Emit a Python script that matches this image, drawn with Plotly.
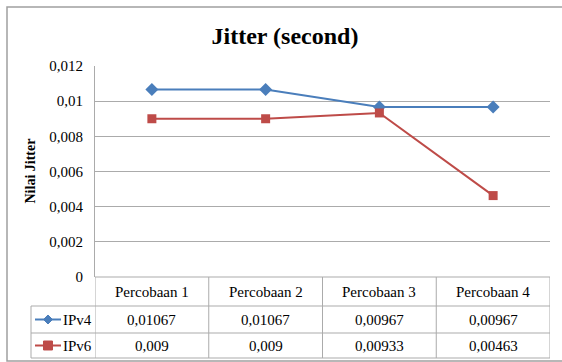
import plotly.graph_objects as go

categories = ["Percobaan 1", "Percobaan 2", "Percobaan 3", "Percobaan 4"]
ipv4 = [0.01067, 0.01067, 0.00967, 0.00967]
ipv6 = [0.009, 0.009, 0.00933, 0.00463]
series_names = ["IPv4", "IPv6"]
tick_vals = [0, 0.002, 0.004, 0.006, 0.008, 0.01, 0.012]
tick_labels = ["0", "0,002", "0,004", "0,006", "0,008", "0,01", "0,012"]

BLUE = "#4A7EBB"
RED = "#BE4B48"
GRID = "#ABABAB"
FONT = "Liberation Serif"
FS = 15

W, H = 562, 362
ML, MR, MT, MB = 95, 12, 66, 85
PW, PH = W - ML - MR, H - MT - MB


def px_x(x):
    return (x - ML) / PW


def px_y(y):
    return (H - MB - y) / PH


xidx = list(range(len(categories)))

fig = go.Figure()
fig.add_trace(go.Scatter(x=xidx, y=ipv4, mode="lines+markers", name=series_names[0],
                         line=dict(color=BLUE, width=2),
                         marker=dict(symbol="diamond", size=10, color=BLUE)))
fig.add_trace(go.Scatter(x=xidx, y=ipv6, mode="lines+markers", name=series_names[1],
                         line=dict(color=RED, width=2),
                         marker=dict(symbol="square", size=9, color=RED)))

shapes = []
annotations = []

y_head_top, y_head_bot, y_r1_bot, y_r2_bot = 277, 306, 333, 358
leg_left = 31

shapes.append(dict(type="line", xref="x", yref="paper", x0=-0.5, x1=len(categories) - 0.5,
                   y0=px_y(y_head_top), y1=px_y(y_head_top), line=dict(color=GRID, width=1)))
for yy in (y_head_bot, y_r1_bot, y_r2_bot):
    shapes.append(dict(type="line", xref="paper", yref="paper", x0=px_x(leg_left), x1=1,
                       y0=px_y(yy), y1=px_y(yy), line=dict(color=GRID, width=1)))
for i in range(len(categories) + 1):
    shapes.append(dict(type="line", xref="x", yref="paper", x0=i - 0.5, x1=i - 0.5,
                       y0=px_y(y_head_top), y1=px_y(y_r2_bot), line=dict(color=GRID, width=1)))
shapes.append(dict(type="line", xref="paper", yref="paper", x0=px_x(leg_left), x1=px_x(leg_left),
                   y0=px_y(y_head_bot), y1=px_y(y_r2_bot), line=dict(color=GRID, width=1)))

shapes.append(dict(type="rect", xref="paper", yref="paper", x0=px_x(7), x1=px_x(570),
                   y0=px_y(361), y1=px_y(7), line=dict(color="#A0A0A0", width=1.5)))

for i, c in enumerate(categories):
    annotations.append(dict(x=i, y=px_y((y_head_top + y_head_bot) / 2), xref="x", yref="paper",
                            xanchor="center", yanchor="middle",
                            text=c, showarrow=False, font=dict(family=FONT, size=FS, color="black")))

rows = [(ipv4, (y_head_bot + y_r1_bot) / 2, BLUE, "diamond", series_names[0]),
        (ipv6, (y_r1_bot + y_r2_bot) / 2, RED, "square", series_names[1])]
for vals, yc, col, sym, name in rows:
    for i, v in enumerate(vals):
        annotations.append(dict(x=i, y=px_y(yc), xref="x", yref="paper",
                                xanchor="center", yanchor="middle",
                                text=str(v).replace(".", ","), showarrow=False,
                                font=dict(family=FONT, size=FS, color="black")))
    shapes.append(dict(type="line", xref="paper", yref="paper", x0=px_x(35), x1=px_x(61),
                       y0=px_y(yc), y1=px_y(yc), line=dict(color=col, width=2)))
    cx, r = 48, 4.5
    if sym == "diamond":
        pts = [(cx, yc - r), (cx + r, yc), (cx, yc + r), (cx - r, yc)]
    else:
        pts = [(cx - r, yc - r), (cx + r, yc - r), (cx + r, yc + r), (cx - r, yc + r)]
    path = "M " + " L ".join(f"{px_x(a):.5f},{px_y(b):.5f}" for a, b in pts) + " Z"
    shapes.append(dict(type="path", xref="paper", yref="paper", path=path,
                       fillcolor=col, line=dict(color=col, width=1)))
    annotations.append(dict(x=px_x(61), y=px_y(yc), xref="paper", yref="paper",
                            xanchor="left", yanchor="middle",
                            text=name, showarrow=False,
                            font=dict(family=FONT, size=FS, color="black")))

annotations.append(dict(x=px_x(30), y=0.5, xref="paper", yref="paper", text="<b>Nilai Jitter</b>",
                        xanchor="center", yanchor="middle",
                        textangle=-90, showarrow=False,
                        font=dict(family=FONT, size=14, color="black")))

fig.update_layout(
    width=W, height=H,
    margin=dict(l=ML, r=MR, t=MT, b=MB, pad=0, autoexpand=False),
    paper_bgcolor="white", plot_bgcolor="white",
    showlegend=False,
    title=dict(text="<b>Jitter (second)</b>", x=285 / W, xref="container", xanchor="center",
               y=1 - 36 / H, yref="container", yanchor="middle",
               font=dict(family=FONT, size=24, color="black")),
    xaxis=dict(range=[-0.5, len(categories) - 0.5], showticklabels=False, showgrid=False,
               zeroline=False, showline=False, ticks=""),
    yaxis=dict(range=[0, 0.012], tickvals=tick_vals, ticktext=tick_labels,
               showgrid=True, gridcolor=GRID, gridwidth=1, zeroline=False,
               showline=True, linecolor=GRID, linewidth=1, ticks="",
               ticklabelstandoff=8,
               tickfont=dict(family=FONT, size=FS, color="black")),
    shapes=shapes,
    annotations=annotations,
)

fig.write_html("out.html", config={"displayModeBar": False},
               post_script="document.body.style.margin='0';document.body.style.overflow='hidden';")
